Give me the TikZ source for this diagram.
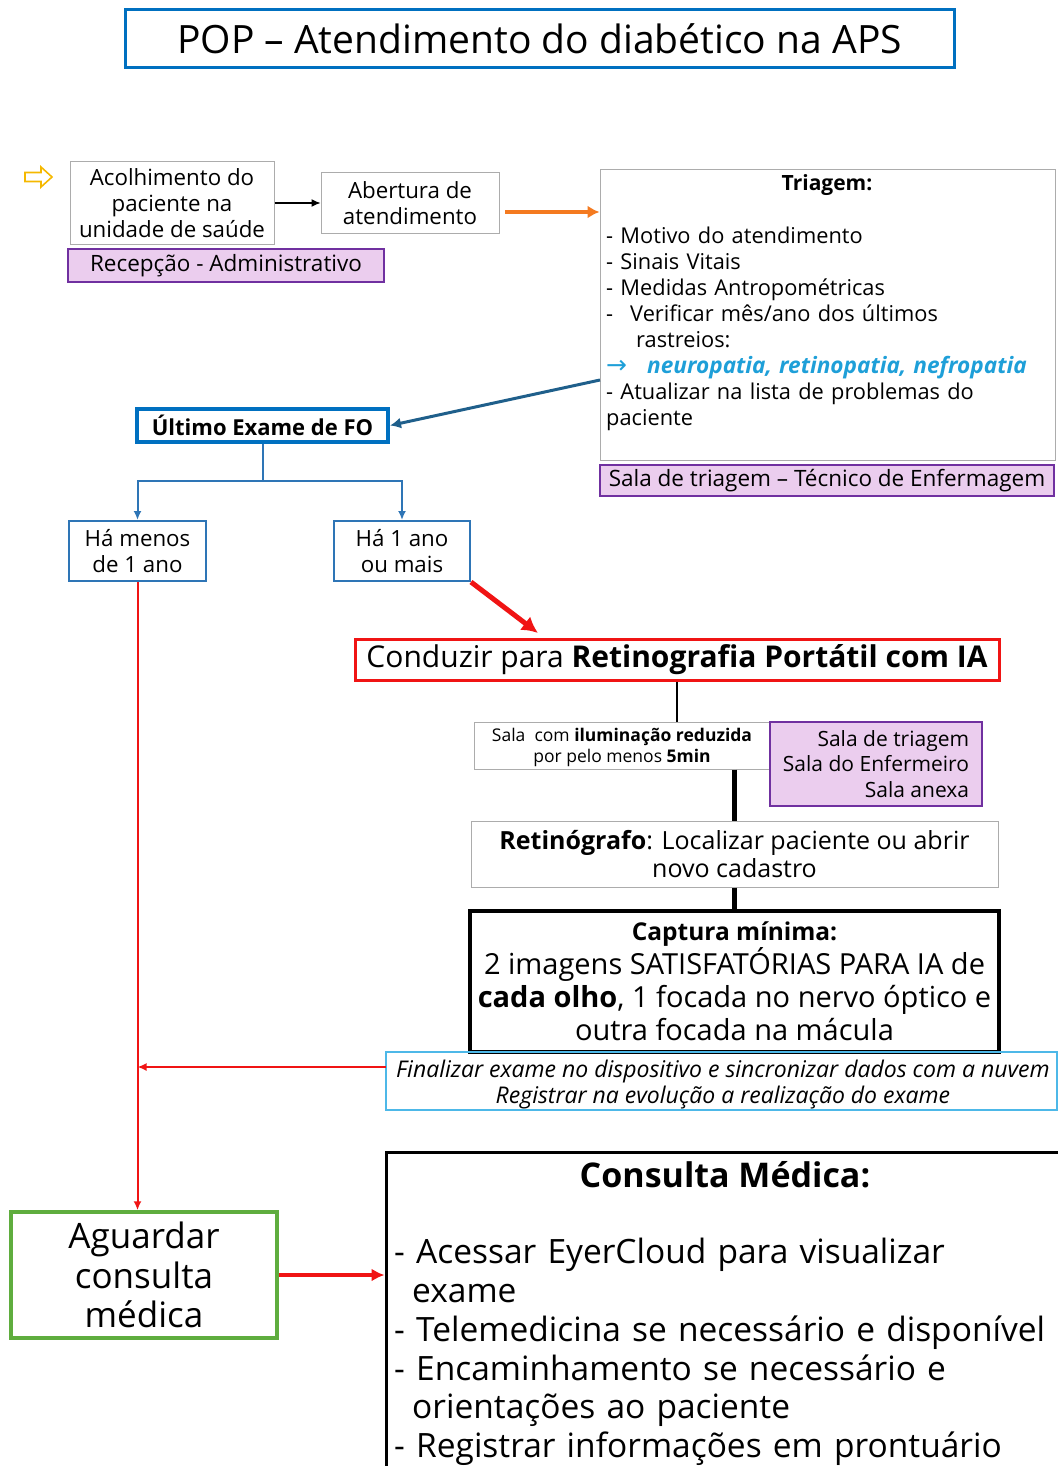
\documentclass[tikz,border=0pt]{standalone}
\usepackage{fontspec}
\setmainfont{Open Sans}
\newfontfamily\simbolos{DejaVu Sans}
\usetikzlibrary{arrows.meta,positioning}

\definecolor{popblue}{HTML}{0070C0}
\definecolor{foblue}{HTML}{2E75B6}
\definecolor{tealblue}{HTML}{1F5F8B}
\definecolor{roxo}{HTML}{7030A0}
\definecolor{rosa}{HTML}{EBCDEE}
\definecolor{ciano}{HTML}{1E9FD8}
\definecolor{vermelho}{HTML}{F01414}
\definecolor{laranja}{HTML}{F47A20}
\definecolor{verde}{HTML}{5FAD3E}
\definecolor{azulclaro}{HTML}{4DB8E8}
\definecolor{amarelo}{HTML}{F5B800}

\newcommand{\fsz}[2]{\fontsize{#1}{#2}\selectfont}

\tikzset{
  caixa/.style={draw=gray!65, line width=1pt, inner sep=0pt, align=center},
  setor/.style={draw=roxo, fill=rosa, line width=2pt, inner sep=0pt, align=center},
  seta/.style={-{Latex[length=9pt,width=8pt]}},
  setagrande/.style={-{Latex[length=16pt,width=17pt]}},
}

\begin{document}
\begin{tikzpicture}[x=1pt,y=-1pt]
  \useasboundingbox (0,0) rectangle (1057,1466);
  % \draw[help lines] (0,0) grid[step=100] (1057,1466);

  \node[caixa, draw=popblue, line width=3pt, minimum width=829pt, minimum height=58pt, font=\fsz{39}{42}] (titulo) at (539.5,39) {POP – Atendimento do diabético na APS};

  % entrada
  \draw[amarelo, line width=1.6pt, line join=miter] (25,172.5) -- (41,172.5) -- (41,167) -- (52,177) -- (41,187) -- (41,181.5) -- (25,181.5) -- cycle;
  \node[caixa, minimum width=204pt, minimum height=82pt, font=\fsz{22.3}{26.3}] (acolh) at (172,203) {Acolhimento do\\paciente na\\unidade de saúde};
  \node[setor, minimum width=316pt, minimum height=33pt, font=\fsz{22.5}{24}] (recepcao) at (226,265.5) {Recepção - Administrativo};
  \node[caixa, minimum width=178pt, minimum height=60pt, font=\fsz{22.3}{26.3}] (abert) at (410,203) {Abertura de\\atendimento};

  % triagem
  \node[caixa, minimum width=455pt, minimum height=290pt] (triagem) at (827.5,315) {};
  \node[inner sep=0pt, font=\fsz{21}{22}\bfseries] (triagemtit) at (827,185) {Triagem:};
  \node[inner sep=0pt, anchor=north west, text width=448pt, align=left, font=\fsz{21.8}{26}] (triagemtxt) at (606,227) {%
    - Motivo do atendimento\\
    - Sinais Vitais\\
    - Medidas Antropométricas\\
    -\hspace*{17pt}Verificar mês/ano dos últimos\\
    \hspace*{30pt}rastreios:\\
    {\color{ciano}\simbolos\fontsize{25}{26}\selectfont →}\hspace*{20pt}{\color{ciano}\fontsize{22.6}{26}\selectfont\bfseries\itshape neuropatia, retinopatia, nefropatia}\\
    - Atualizar na lista de problemas do\\
    paciente};
  \node[setor, minimum width=454pt, minimum height=31pt, font=\fsz{22.5}{24}] (salatri) at (827,480.5) {Sala de triagem – Técnico de Enfermagem};

  \draw[seta, line width=1.2pt] (acolh) -- (abert);
  \coordinate (laranja0) at (505,212);
  \draw[-{Latex[length=12pt,width=13pt]}, laranja, line width=3.5pt] (laranja0) -- (laranja0 -| triagem.west);

  % ultimo exame
  \node[caixa, draw=popblue, line width=4pt, minimum width=251pt, minimum height=33pt, font=\fsz{22}{24}\bfseries] (ultimo) at (262.5,425.5) {Último Exame de FO};
  \coordinate (azul0) at (600,380);
  \draw[-{Latex[length=11pt,width=11pt]}, tealblue, line width=3pt] (azul0) -- (ultimo.east);

  \node[caixa, draw=foblue, line width=2pt, minimum width=137pt, minimum height=60pt, font=\fsz{22.3}{26.3}] (menos) at (137.5,551) {Há menos\\de 1 ano};
  \node[caixa, draw=foblue, line width=2pt, minimum width=136pt, minimum height=60pt, font=\fsz{22.3}{26.3}] (mais) at (402,551) {Há 1 ano\\ou mais};
  \draw[foblue, line width=2pt] (ultimo.south) -- ++(0,37) coordinate (galho);
  \draw[seta, foblue, line width=2pt] (galho) -| (menos.north);
  \draw[seta, foblue, line width=2pt] (galho) -| (mais.north);

  % retinografia
  \node[caixa, draw=vermelho, line width=3pt, minimum width=644pt, minimum height=41pt, font=\fsz{30}{32}] (conduzir) at (677,659.5) {Conduzir para \textbf{Retinografia Portátil com IA}};
  \coordinate (vermelho0) at (538,633);
  \draw[setagrande, vermelho, line width=5pt] (mais.south east) -- (vermelho0);

  \node[caixa, minimum width=296pt, minimum height=47pt] (sala) at (622,745.5) {};
  \node[inner sep=0pt, align=center, font=\fsz{17.5}{21.5}] (salatxt) at (622,747.5) {Sala\ \ com \textbf{iluminação reduzida}\\por pelo menos \textbf{5min}};
  \node[setor, align=right, minimum width=212pt, minimum height=84pt, font=\fsz{21}{25.5}] (salas) at (876,764) {Sala de triagem\\Sala do Enfermeiro\\Sala anexa};
  \draw[line width=2.5pt] (conduzir.south) -- (conduzir.south |- sala.north);

  \node[caixa, minimum width=527pt, minimum height=66pt, font=\fsz{25}{28.5}] (retino) at (734.5,854) {\textbf{Retinógrafo}: Localizar paciente ou abrir\\novo cadastro};
  \draw[line width=5pt] (sala.south -| retino.north) -- (retino.north);

  \node[caixa, draw=black, line width=4pt, minimum width=529pt, minimum height=141pt, font=\fsz{29}{33.3}] (captura) at (734.5,981.5) {{\bfseries\fontsize{24.5}{33.3}\selectfont Captura mínima:}\\2 imagens SATISFATÓRIAS PARA IA de\\\textbf{cada olho}, 1 focada no nervo óptico e\\outra focada na mácula};
  \draw[line width=5pt] (retino.south) -- (captura.north);

  \node[caixa, draw=azulclaro, line width=2pt, minimum width=671pt, minimum height=58pt] (finalizar) at (721.5,1081) {};
  \node[inner sep=0pt, align=center, font=\fsz{23}{25.5}\itshape] (finalizartxt) at (723,1084.5) {Finalizar exame no dispositivo e sincronizar dados com a nuvem\\Registrar na evolução a realização do exame};

  % consulta
  \node[caixa, draw=verde, line width=3.5pt, minimum width=266pt, minimum height=126pt, font=\fsz{35}{39.5}] (aguardar) at (144,1275) {Aguardar\\consulta\\médica};
  \coordinate (fin0) at (386,1067);
  \draw[seta, vermelho, line width=2pt] (fin0) -- (fin0 -| menos.south);
  \draw[seta, vermelho, line width=2pt] (menos.south) -- (menos.south |- aguardar.north);

  \node[caixa, draw=black, line width=3pt, minimum width=674pt, minimum height=318pt] (consulta) at (723,1311) {};
  \node[inner sep=0pt, font=\fsz{34}{36}\bfseries] (consultatit) at (725,1175) {Consulta Médica:};
  \node[inner sep=0pt, anchor=north west, text width=662pt, align=left, font=\fsz{33.5}{38.8}] (consultatxt) at (394,1238) {%
    - Acessar EyerCloud para visualizar\\
    \hspace*{18pt}exame\\
    - Telemedicina se necessário e disponível\\
    - Encaminhamento se necessário e\\
    \hspace*{18pt}orientações ao paciente\\
    - Registrar informações em prontuário};
  \draw[-{Latex[length=13pt,width=13pt]}, vermelho, line width=4pt] (aguardar.east) -- (aguardar.east -| consulta.west);
\end{tikzpicture}
\end{document}
